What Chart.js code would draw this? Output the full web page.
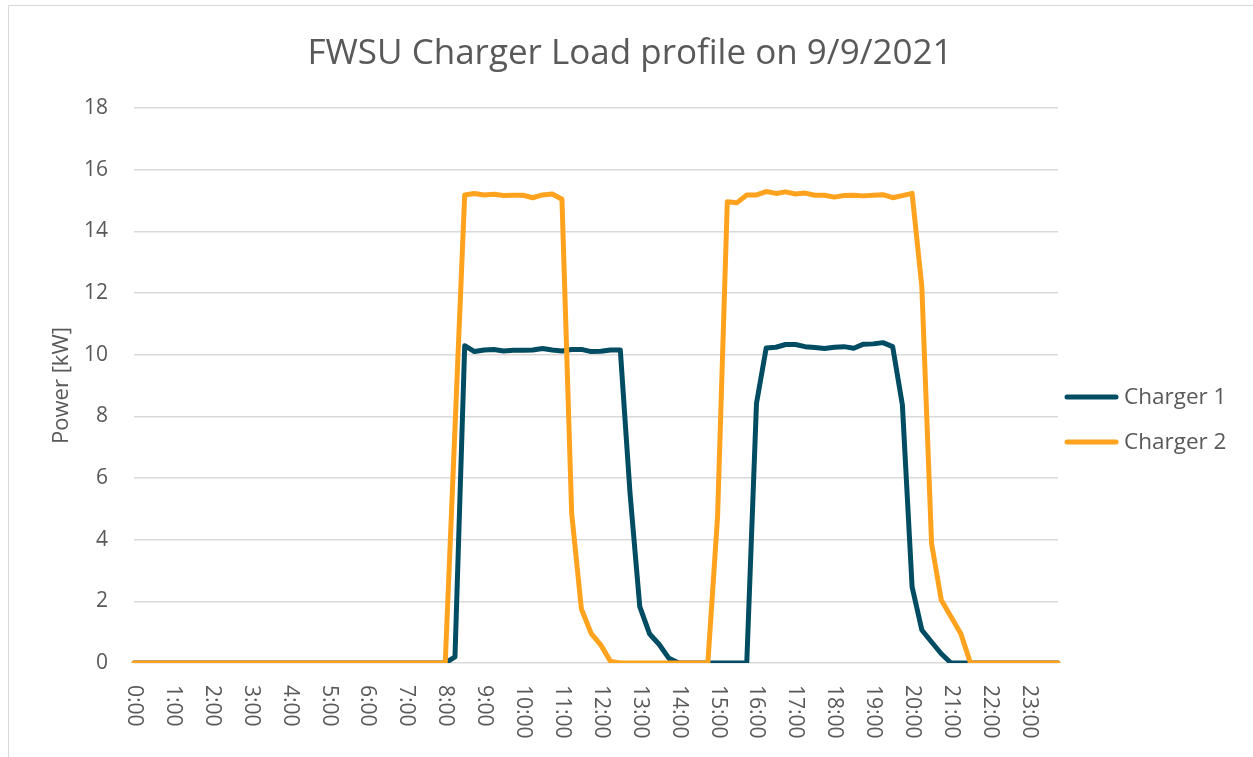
<!DOCTYPE html>
<html>
<head>
<meta charset="utf-8">
<script src="https://cdn.jsdelivr.net/npm/chart.js@4.4.1/dist/chart.umd.min.js"></script>
<style>
  body { margin: 0; background: #fff; }
  #wrap { position: relative; width: 1253px; height: 757px; overflow: hidden; }
  #frame { position: absolute; left: 8px; top: 5px; width: 1300px; height: 800px; border: 1px solid #d9d9d9; }
  #myChart { position: absolute; left: 0; top: 0; }
</style>
</head>
<body>
<div id="wrap">
  <div id="frame"></div>
  <canvas id="myChart" width="1253" height="757"></canvas>
</div>
<script>
// quarter-hour time stamps
const categories = [
  '0:00','0:15','0:30','0:45','1:00','1:15','1:30','1:45',
  '2:00','2:15','2:30','2:45','3:00','3:15','3:30','3:45',
  '4:00','4:15','4:30','4:45','5:00','5:15','5:30','5:45',
  '6:00','6:15','6:30','6:45','7:00','7:15','7:30','7:45',
  '8:00','8:15','8:30','8:45','9:00','9:15','9:30','9:45',
  '10:00','10:15','10:30','10:45','11:00','11:15','11:30','11:45',
  '12:00','12:15','12:30','12:45','13:00','13:15','13:30','13:45',
  '14:00','14:15','14:30','14:45','15:00','15:15','15:30','15:45',
  '16:00','16:15','16:30','16:45','17:00','17:15','17:30','17:45',
  '18:00','18:15','18:30','18:45','19:00','19:15','19:30','19:45',
  '20:00','20:15','20:30','20:45','21:00','21:15','21:30','21:45',
  '22:00','22:15','22:30','22:45','23:00','23:15','23:30','23:45'
];

// labels shown under the x axis
const tickLabels = ['0:00','1:00','2:00','3:00','4:00','5:00','6:00','7:00','8:00','9:00','10:00','11:00',
  '12:00','13:00','14:00','15:00','16:00','17:00','18:00','19:00','20:00','21:00','22:00','23:00'];

const yTicks = [0, 2, 4, 6, 8, 10, 12, 14, 16, 18];

// Charger 1 [kW]
const charger1 = [
  0,0,0,0,0,0,0,0, 0,0,0,0,0,0,0,0,
  0,0,0,0,0,0,0,0, 0,0,0,0,0,0,0,0,
  0, 0.2, 10.29, 10.1, 10.15, 10.17, 10.12, 10.14,
  10.14, 10.15, 10.2, 10.15, 10.12, 10.17, 10.17, 10.1,
  10.11, 10.15, 10.15, 5.5, 1.83, 0.95, 0.6, 0.15,
  0,0,0,0,0,0,0,0,
  8.42, 10.22, 10.24, 10.33, 10.33, 10.26, 10.23, 10.2,
  10.24, 10.26, 10.21, 10.34, 10.35, 10.39, 10.26, 8.37,
  2.47, 1.07, 0.68, 0.3, 0,0,0,0,
  0,0,0,0,0,0,0,0
];

// Charger 2 [kW]
const charger2 = [
  0,0,0,0,0,0,0,0, 0,0,0,0,0,0,0,0,
  0,0,0,0,0,0,0,0, 0,0,0,0,0,0,0,0,
  0, 7.6, 15.18, 15.23, 15.18, 15.2, 15.16, 15.17,
  15.17, 15.09, 15.18, 15.21, 15.04, 4.85, 1.75, 0.96,
  0.58, 0.05, 0,0,0,0,0,0,
  0,0,0,0, 4.75, 14.96, 14.93, 15.18,
  15.18, 15.29, 15.23, 15.28, 15.21, 15.24, 15.17, 15.17,
  15.11, 15.16, 15.17, 15.15, 15.17, 15.19, 15.09, 15.16,
  15.23, 12.2, 3.88, 2.04, 1.5, 0.96, 0,0,
  0,0,0,0,0,0,0,0
];

const chartTitle = 'FWSU Charger Load profile on 9/9/2021';

Chart.defaults.font.family = "'Open Sans', 'Noto Sans', sans-serif";
Chart.defaults.color = '#595959';

// title sits centred over the whole frame, not only the plot
const titlePlugin = {
  id: 'frameTitle',
  afterDraw(chart) {
    const ctx = chart.ctx;
    ctx.save();
    ctx.fillStyle = '#595959';
    ctx.font = "35px 'Open Sans'";
    ctx.textAlign = 'center';
    ctx.textBaseline = 'middle';
    ctx.fillText(chartTitle, 630, 54);
    ctx.restore();
  }
};

// x labels read top-to-bottom, so they are drawn here
const xLabelPlugin = {
  id: 'xLabels',
  afterDraw(chart) {
    const ctx = chart.ctx;
    const xs = chart.scales.x;
    ctx.save();
    ctx.fillStyle = '#595959';
    ctx.font = "21px 'Open Sans'";
    ctx.textAlign = 'left';
    ctx.textBaseline = 'middle';
    categories.forEach((c, i) => {
      if (!tickLabels.includes(c)) return;
      const x = xs.getPixelForValue(i);
      ctx.save();
      ctx.translate(x, chart.chartArea.bottom + 22);
      ctx.rotate(Math.PI / 2);
      ctx.fillText(c, 0, 0);
      ctx.restore();
    });
    ctx.restore();
  }
};

const legendPlugin = {
  id: 'sideLegend',
  afterDraw(chart) {
    const ctx = chart.ctx;
    ctx.save();
    chart.data.datasets.forEach((ds, k) => {
      const y = 397 + k * 45;
      ctx.strokeStyle = ds.borderColor;
      ctx.lineWidth = 5;
      ctx.lineCap = 'round';
      ctx.beginPath();
      ctx.moveTo(1067, y);
      ctx.lineTo(1116, y);
      ctx.stroke();
      ctx.fillStyle = '#595959';
      ctx.font = "22.5px 'Open Sans'";
      ctx.textBaseline = 'middle';
      ctx.fillText(ds.label, 1124, y + 1);
    });
    ctx.restore();
  }
};

const ctx = document.getElementById('myChart').getContext('2d');
new Chart(ctx, {
  type: 'line',
  data: {
    labels: categories,
    datasets: [
      {
        label: 'Charger 1',
        data: charger1,
        borderColor: '#004d63',
        backgroundColor: '#004d63',
        borderWidth: 5,
        pointRadius: 0,
        tension: 0,
        borderJoinStyle: 'round',
        borderCapStyle: 'round',
        order: 1
      },
      {
        label: 'Charger 2',
        data: charger2,
        borderColor: '#ffa21d',
        backgroundColor: '#ffa21d',
        borderWidth: 5,
        pointRadius: 0,
        tension: 0,
        borderJoinStyle: 'round',
        borderCapStyle: 'round',
        order: 0
      }
    ]
  },
  options: {
    responsive: false,
    animation: false,
    layout: { padding: { top: 108, right: 195, left: 0, bottom: 0 } },
    plugins: {
      legend: { display: false },
      tooltip: { enabled: false },
      title: { display: false }
    },
    scales: {
      x: {
        offset: false,
        grid: { display: false },
        border: { display: false },
        ticks: { display: false },
        afterFit: (s) => { s.height = 94; }
      },
      y: {
        min: 0,
        max: 18,
        afterBuildTicks: (s) => { s.ticks = yTicks.map(v => ({ value: v })); },
        grid: { color: '#d9d9d9', lineWidth: 1.5, drawTicks: false },
        border: { display: false },
        ticks: { padding: 26, font: { size: 21 }, color: '#595959' },
        title: {
          display: true,
          text: 'Power [kW]',
          color: '#595959',
          font: { size: 22 },
          padding: { top: 49, bottom: 0 }
        },
        afterFit: (s) => { s.width = 134; }
      }
    }
  },
  plugins: [titlePlugin, xLabelPlugin, legendPlugin]
});
</script>
</body>
</html>
